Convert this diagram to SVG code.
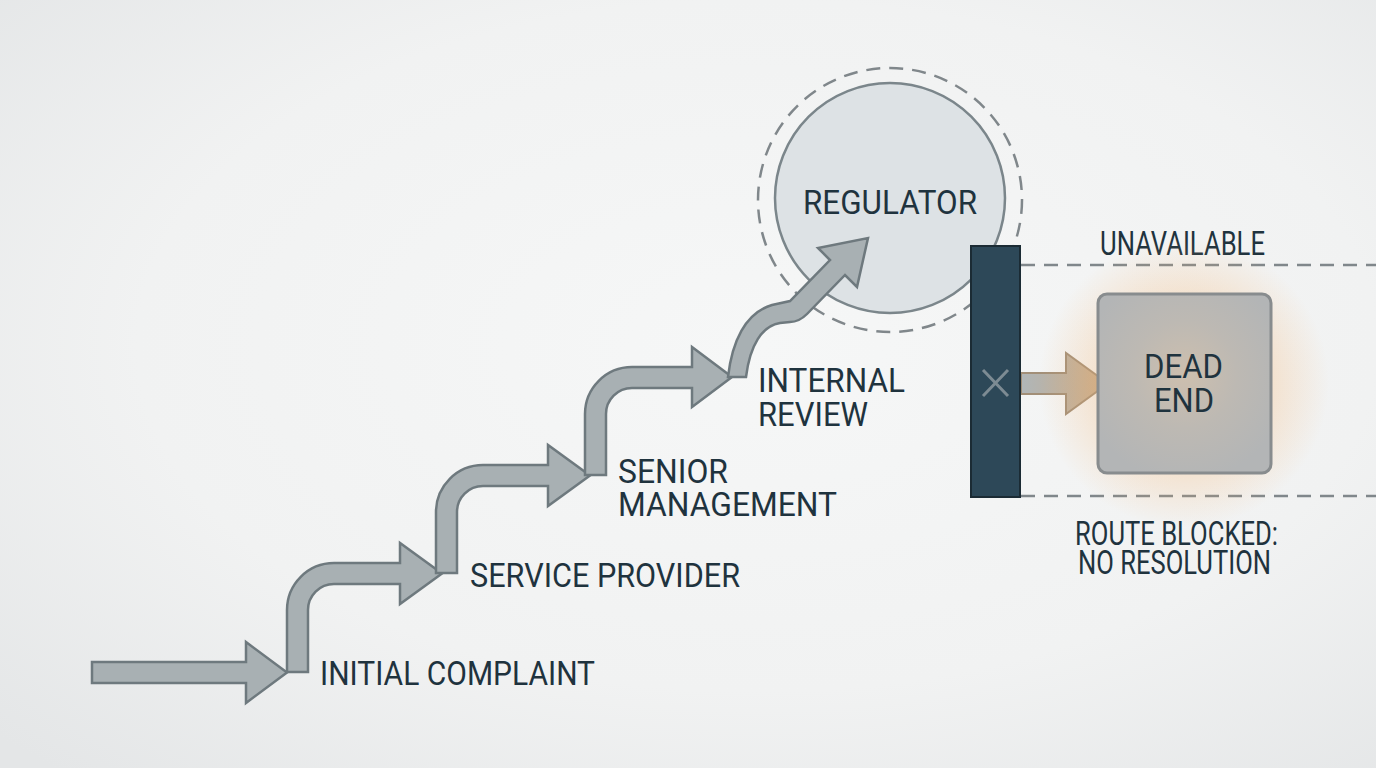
<svg xmlns="http://www.w3.org/2000/svg" width="1376" height="768" viewBox="0 0 1376 768">
<defs>
<radialGradient id="bg" cx="0.55" cy="0.45" r="0.75">
<stop offset="0" stop-color="#f6f7f7"/>
<stop offset="0.6" stop-color="#f1f2f2"/>
<stop offset="1" stop-color="#e4e6e7"/>
</radialGradient>
<radialGradient id="glow" cx="0.5" cy="0.5" r="0.5">
<stop offset="0" stop-color="#f6a956" stop-opacity="0.7"/>
<stop offset="0.55" stop-color="#f6b36d" stop-opacity="0.3"/>
<stop offset="1" stop-color="#f6b36d" stop-opacity="0"/>
</radialGradient>
<radialGradient id="box" cx="0.5" cy="0.45" r="0.6">
<stop offset="0" stop-color="#cdbfae"/>
<stop offset="0.5" stop-color="#bdb9b3"/>
<stop offset="1" stop-color="#b3b5b6"/>
</radialGradient>
<linearGradient id="small" x1="0" y1="0" x2="1" y2="0">
<stop offset="0" stop-color="#b0b6b8"/>
<stop offset="1" stop-color="#c9ab88"/>
</linearGradient>
<style>
.arrow{fill:#a8b0b3;stroke:#6e797e;stroke-width:2.5;stroke-linejoin:miter}
.lbl{font-family:Roboto,"Liberation Sans",sans-serif;fill:#1f333e;font-size:34px}
.dash{fill:none;stroke:#80878b;stroke-width:2.5;stroke-dasharray:14 9}
</style>
</defs>
<rect width="1376" height="768" fill="url(#bg)"/>

<g id="regulator">
<circle cx="890" cy="200" r="132" class="dash" stroke-dasharray="11 8"/>
<circle cx="890" cy="198" r="115" fill="#dde2e5" stroke="#7b868b" stroke-width="2.5"/>
<text x="803" y="214" class="lbl" font-size="35" textLength="174" lengthAdjust="spacingAndGlyphs">REGULATOR</text>
</g>

<g id="connectors">
<path class="arrow" d="M92,662 L246,662 L246,642 L287,672.5 L246,703 L246,683 L92,683 Z"/>
<path class="arrow" d="M287,672 L287,610 A47,47 0 0 1 334,563 L400,563 L400,543 L442,573.5 L400,604 L400,584 L334,584 A26,26 0 0 0 308,610 L308,672 Z"/>
<path class="arrow" d="M436,573 L436,512 A47,47 0 0 1 483,465 L548,465 L548,445 L590,475.5 L548,506 L548,486 L483,486 A26,26 0 0 0 457,512 L457,573 Z"/>
<path class="arrow" d="M585,475 L585,414 A47,47 0 0 1 632,367 L692,367 L692,347 L732,377 L692,407 L692,388 L632,388 A26,26 0 0 0 606,414 L606,475 Z"/>
<path class="arrow" d="M728,377 C732,342 745,313 772,305 L790,301 L830,260 L818,248 L868,238 L857,287 L845,275 L807,314 C802,319 797,322 790,322 L780,323 C762,326 750,345 746,377 Z"/>
<path d="M1021,373 L1066,373 L1066,353 L1108,383.5 L1066,414 L1066,394 L1021,394 Z" fill="url(#small)" stroke="#a28f78" stroke-width="2"/>
</g>

<g id="initial-complaint">
<text x="320" y="685" class="lbl" textLength="275" lengthAdjust="spacingAndGlyphs">INITIAL COMPLAINT</text>
</g>
<g id="service-provider">
<text x="470" y="587" class="lbl" textLength="270" lengthAdjust="spacingAndGlyphs">SERVICE PROVIDER</text>
</g>
<g id="senior-management">
<text class="lbl"><tspan x="618" y="483" textLength="110" lengthAdjust="spacingAndGlyphs">SENIOR</tspan><tspan x="618" y="516" textLength="219" lengthAdjust="spacingAndGlyphs">MANAGEMENT</tspan></text>
</g>
<g id="internal-review">
<text class="lbl" font-size="36"><tspan x="758" y="392" textLength="147" lengthAdjust="spacingAndGlyphs">INTERNAL</tspan><tspan x="758" y="426" textLength="110" lengthAdjust="spacingAndGlyphs">REVIEW</tspan></text>
</g>

<g id="unavailable">
<line x1="1021" y1="265" x2="1376" y2="265" class="dash"/>
<line x1="1021" y1="496" x2="1376" y2="496" class="dash"/>
<text x="1100" y="255" class="lbl" font-size="28" fill="#34474f" textLength="165" lengthAdjust="spacingAndGlyphs">UNAVAILABLE</text>
</g>

<g id="barrier">
<rect x="971" y="246" width="49" height="251" fill="#2d4858" stroke="#1b2b34" stroke-width="2"/>
<path d="M983,370 L1008,396 M1008,370 L983,396" stroke="#7d8b93" stroke-width="3" fill="none"/>
</g>

<g id="dead-end">
<ellipse cx="1184" cy="383" rx="145" ry="145" fill="url(#glow)"/>
<rect x="1098" y="294" width="173" height="179" rx="9" fill="url(#box)" stroke="#888c8e" stroke-width="3"/>
<text class="lbl" font-size="32"><tspan x="1144" y="378" textLength="79" lengthAdjust="spacingAndGlyphs">DEAD</tspan><tspan x="1154" y="412" textLength="60" lengthAdjust="spacingAndGlyphs">END</tspan></text>
</g>

<g id="route-blocked">
<text class="lbl" font-size="31"><tspan x="1075" y="545" textLength="203" lengthAdjust="spacingAndGlyphs">ROUTE BLOCKED:</tspan><tspan x="1078" y="574" textLength="193" lengthAdjust="spacingAndGlyphs">NO RESOLUTION</tspan></text>
</g>
</svg>
